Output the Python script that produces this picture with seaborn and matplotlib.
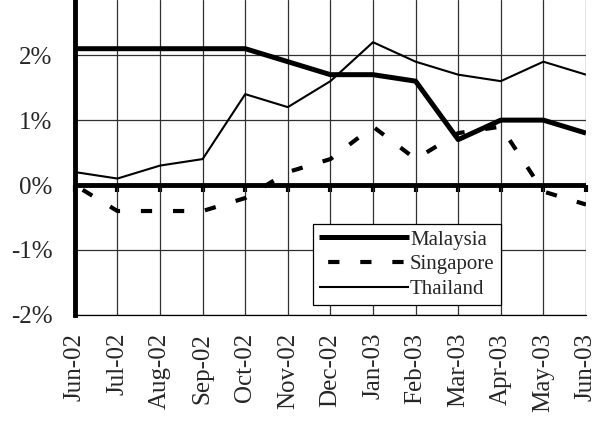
import matplotlib
matplotlib.use('Agg')
import matplotlib.pyplot as plt
import seaborn as sns

months = ["Jun-02", "Jul-02", "Aug-02", "Sep-02", "Oct-02", "Nov-02", "Dec-02",
          "Jan-03", "Feb-03", "Mar-03", "Apr-03", "May-03", "Jun-03"]
malaysia = [2.1, 2.1, 2.1, 2.1, 2.1, 1.9, 1.7, 1.7, 1.6, 0.7, 1.0, 1.0, 0.8]
singapore = [0.0, -0.4, -0.4, -0.4, -0.2, 0.2, 0.4, 0.9, 0.4, 0.8, 0.9, -0.1, -0.3]
thailand = [0.2, 0.1, 0.3, 0.4, 1.4, 1.2, 1.6, 2.2, 1.9, 1.7, 1.6, 1.9, 1.7]
y_ticks = [-2, -1, 0, 1, 2]

sns.set_style("white")
plt.rcParams['font.family'] = ['Liberation Serif', 'DejaVu Serif']

fig = plt.figure(figsize=(5.94, 4.21), dpi=100)
ax = fig.add_axes([0.126, 0.252, 0.8605, 0.748])

x = list(range(len(months)))
series = [
    ("Malaysia", malaysia, dict(lw=3.6, color="black")),
    ("Singapore", singapore, dict(lw=3.0, color="black", dashes=(2.7, 5.0))),
    ("Thailand", thailand, dict(lw=1.5, color="black")),
]
for name, vals, style in series:
    sns.lineplot(x=x, y=vals, ax=ax, label=name, **style)
    ax.lines[-1].set_dash_capstyle('butt')
    ax.lines[-1].set_solid_capstyle('butt')
    if name == "Singapore":
        ax.lines[-1].set_linestyle((5.5, (2.7, 5.0)))

ax.set_xlim(0, 12)
ax.set_ylim(-2, 2.85)
ax.set_xticks(x)
ax.set_xticklabels(months, rotation=90, fontsize=18)
ax.set_yticks(y_ticks)
ax.set_yticklabels([f"{v}%" for v in y_ticks], fontsize=18)

ax.grid(True, color="#303030", lw=0.9)
ax.set_axisbelow(True)

for s in ["top", "right"]:
    ax.spines[s].set_visible(False)
ax.spines["bottom"].set_linewidth(0.9)
ax.spines["bottom"].set_color("black")
ax.spines["left"].set_linewidth(3.5)
ax.spines["left"].set_color("black")
ax.tick_params(axis="x", length=0, pad=13)
ax.tick_params(axis="y", direction="out", length=5, width=3, color="black", pad=11)

# thick zero line with tick marks
ax.axhline(0, color="black", lw=3.5, zorder=3)
zero_pos = 2 / 4.85
sec = ax.secondary_xaxis(zero_pos)
sec.set_xticks(x)
sec.set_xticklabels([])
sec.spines["bottom"].set_visible(False)
sec.tick_params(axis="x", direction="out", length=5, width=3, color="black")

leg = ax.legend(loc="lower left", bbox_to_anchor=(0.466, 0.03), fontsize=15,
                frameon=True, fancybox=False, framealpha=1, edgecolor="black",
                handlelength=4.3, handletextpad=0.05, borderpad=0.3,
                labelspacing=0.25, borderaxespad=0)
leg.get_frame().set_linewidth(0.9)

fig.savefig("out.png", dpi=100)
